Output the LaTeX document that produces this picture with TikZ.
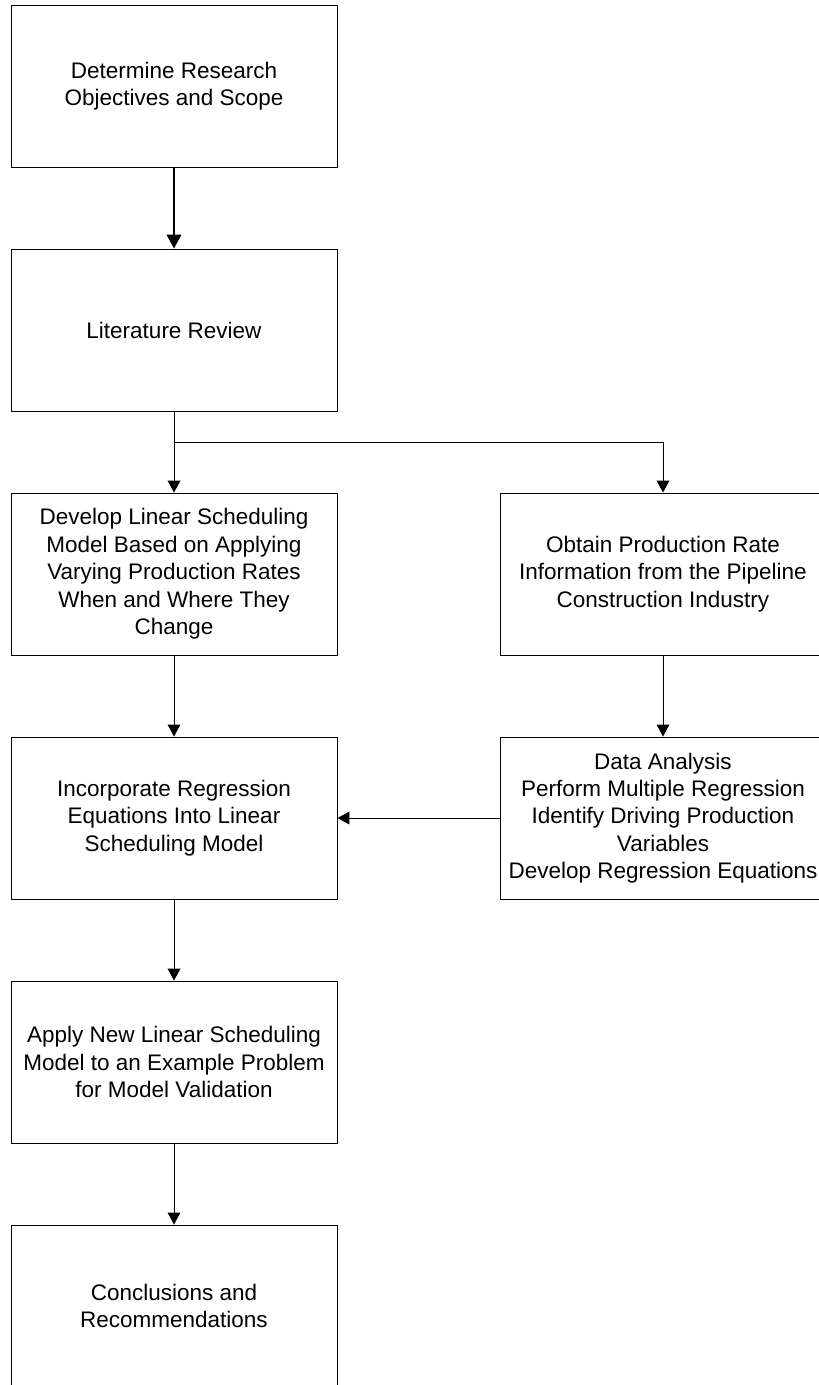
\documentclass[tikz,border=0pt]{standalone}
\usepackage{fontspec}
\setmainfont{Liberation Sans}
\usepackage{tikz}
\usetikzlibrary{arrows.meta,positioning,calc}

\tikzset{
  stage/.style={draw=black,line width=0.7pt,minimum width=8.15cm,minimum height=4.05cm,
                align=center,inner sep=0pt,font=\fontsize{16pt}{19.5pt}\selectfont},
  flow/.style={-{Triangle[length=0.3cm,width=0.32cm]},line width=0.7pt},
}

\begin{document}
\begin{tikzpicture}
        \useasboundingbox (0,0) rectangle (20.475,-34.625);
        \clip (0,0) rectangle (20.475,-34.625);
        % left column
        \node[stage] (scope)   at (4.35,-2.15)  {Determine Research\\Objectives and Scope};
        \node[stage] (review)  at (4.35,-8.25)  {Literature Review};
        \node[stage] (develop) at (4.35,-14.35) {Develop Linear Scheduling\\Model Based on Applying\\Varying Production Rates\\When and Where They\\Change};
        \node[stage] (incorp)  at (4.35,-20.45) {Incorporate Regression\\Equations Into Linear\\Scheduling Model};
        \node[stage] (apply)   at (4.35,-26.55) {Apply New Linear Scheduling\\Model to an Example Problem\\for Model Validation};
        \node[stage] (concl)   at (4.35,-32.65) {Conclusions and\\Recommendations};
        % right column
        \node[stage] (obtain)  at (16.575,-14.35) {Obtain Production Rate\\Information from the Pipeline\\Construction Industry};
        \node[stage] (analysis) at (16.575,-20.45) {Data Analysis\\Perform Multiple Regression\\Identify Driving Production\\Variables\\Develop Regression Equations};
        \coordinate (split) at (4.35,-11.05);
        % connectors
        \draw[-{Triangle[length=0.35cm,width=0.37cm]},line width=1.1pt] (scope) -- (review);
        \draw[flow] (review) -- (develop);
        \draw[flow] (split) -| (obtain.north);
        \draw[flow] (develop) -- (incorp);
        \draw[flow] (obtain) -- (analysis);
        \draw[flow] (analysis) -- (incorp);
        \draw[flow] (incorp) -- (apply);
        \draw[flow] (apply) -- (concl);
      \end{tikzpicture}
\end{document}
